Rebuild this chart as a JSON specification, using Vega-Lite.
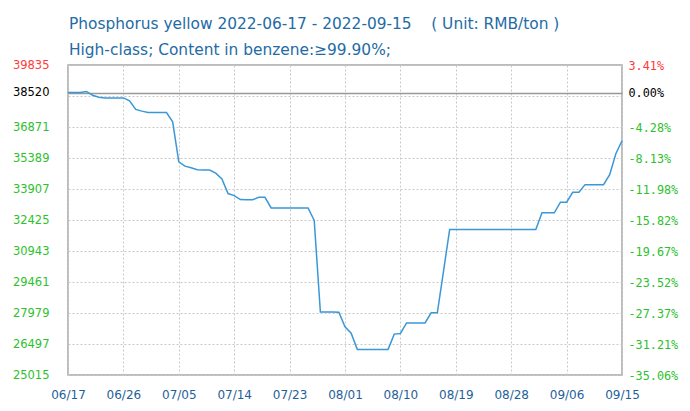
{
  "$schema": "https://vega.github.io/schema/vega-lite/v6.json",
  "width": 554,
  "height": 310,
  "autosize": "none",
  "padding": {"left": 68, "top": 65, "right": 68, "bottom": 36},
  "background": "white",
  "config": {
    "view": {"stroke": "#a6a6a6", "strokeWidth": 1.5},
    "font": "DejaVu Sans"
  },
  "title": {
    "text": ["Phosphorus yellow 2022-06-17 - 2022-09-15\u00a0\u00a0\u00a0\u00a0( Unit: RMB/ton )", "High-class; Content in benzene:≥99.90%;"],
    "anchor": "start",
    "frame": "group",
    "dx": 1,
    "dy": 3,
    "font": "DejaVu Sans",
    "fontSize": 15.4,
    "fontWeight": "normal",
    "color": "#236ba5",
    "lineHeight": 26,
    "offset": 4
  },
  "data": {
    "values": [
      {"date": "2022-06-17", "price": 38520},
      {"date": "2022-06-18", "price": 38520},
      {"date": "2022-06-19", "price": 38520},
      {"date": "2022-06-20", "price": 38570},
      {"date": "2022-06-21", "price": 38390},
      {"date": "2022-06-22", "price": 38295},
      {"date": "2022-06-23", "price": 38260},
      {"date": "2022-06-24", "price": 38260},
      {"date": "2022-06-25", "price": 38260},
      {"date": "2022-06-26", "price": 38260},
      {"date": "2022-06-27", "price": 38120},
      {"date": "2022-06-28", "price": 37710},
      {"date": "2022-06-29", "price": 37630},
      {"date": "2022-06-30", "price": 37560},
      {"date": "2022-07-01", "price": 37560},
      {"date": "2022-07-02", "price": 37560},
      {"date": "2022-07-03", "price": 37560},
      {"date": "2022-07-04", "price": 37120},
      {"date": "2022-07-05", "price": 35210},
      {"date": "2022-07-06", "price": 35000},
      {"date": "2022-07-07", "price": 34925},
      {"date": "2022-07-08", "price": 34830},
      {"date": "2022-07-09", "price": 34815},
      {"date": "2022-07-10", "price": 34815},
      {"date": "2022-07-11", "price": 34665},
      {"date": "2022-07-12", "price": 34390},
      {"date": "2022-07-13", "price": 33690},
      {"date": "2022-07-14", "price": 33590},
      {"date": "2022-07-15", "price": 33400},
      {"date": "2022-07-16", "price": 33390},
      {"date": "2022-07-17", "price": 33390},
      {"date": "2022-07-18", "price": 33510},
      {"date": "2022-07-19", "price": 33510},
      {"date": "2022-07-20", "price": 33000},
      {"date": "2022-07-21", "price": 33000},
      {"date": "2022-07-22", "price": 33000},
      {"date": "2022-07-23", "price": 33000},
      {"date": "2022-07-24", "price": 33000},
      {"date": "2022-07-25", "price": 33000},
      {"date": "2022-07-26", "price": 33000},
      {"date": "2022-07-27", "price": 32400},
      {"date": "2022-07-28", "price": 28030},
      {"date": "2022-07-29", "price": 28030},
      {"date": "2022-07-30", "price": 28030},
      {"date": "2022-07-31", "price": 28015},
      {"date": "2022-08-01", "price": 27315},
      {"date": "2022-08-02", "price": 27015},
      {"date": "2022-08-03", "price": 26240},
      {"date": "2022-08-04", "price": 26240},
      {"date": "2022-08-05", "price": 26240},
      {"date": "2022-08-06", "price": 26240},
      {"date": "2022-08-07", "price": 26240},
      {"date": "2022-08-08", "price": 26240},
      {"date": "2022-08-09", "price": 26970},
      {"date": "2022-08-10", "price": 27000},
      {"date": "2022-08-11", "price": 27505},
      {"date": "2022-08-12", "price": 27505},
      {"date": "2022-08-13", "price": 27505},
      {"date": "2022-08-14", "price": 27505},
      {"date": "2022-08-15", "price": 27985},
      {"date": "2022-08-16", "price": 27985},
      {"date": "2022-08-17", "price": 29970},
      {"date": "2022-08-18", "price": 31970},
      {"date": "2022-08-19", "price": 31970},
      {"date": "2022-08-20", "price": 31970},
      {"date": "2022-08-21", "price": 31970},
      {"date": "2022-08-22", "price": 31970},
      {"date": "2022-08-23", "price": 31970},
      {"date": "2022-08-24", "price": 31970},
      {"date": "2022-08-25", "price": 31970},
      {"date": "2022-08-26", "price": 31970},
      {"date": "2022-08-27", "price": 31970},
      {"date": "2022-08-28", "price": 31970},
      {"date": "2022-08-29", "price": 31970},
      {"date": "2022-08-30", "price": 31970},
      {"date": "2022-08-31", "price": 31970},
      {"date": "2022-09-01", "price": 31970},
      {"date": "2022-09-02", "price": 32770},
      {"date": "2022-09-03", "price": 32770},
      {"date": "2022-09-04", "price": 32770},
      {"date": "2022-09-05", "price": 33275},
      {"date": "2022-09-06", "price": 33275},
      {"date": "2022-09-07", "price": 33750},
      {"date": "2022-09-08", "price": 33750},
      {"date": "2022-09-09", "price": 34115},
      {"date": "2022-09-10", "price": 34115},
      {"date": "2022-09-11", "price": 34115},
      {"date": "2022-09-12", "price": 34115},
      {"date": "2022-09-13", "price": 34595},
      {"date": "2022-09-14", "price": 35595},
      {"date": "2022-09-15", "price": 36215}
    ]
  },
  "layer": [
    {
      "mark": {"type": "line", "color": "#3a98d8", "strokeWidth": 1.5},
      "encoding": {
        "x": {
          "field": "date",
          "type": "temporal",
          "scale": {
            "type": "utc",
            "nice": false,
            "domain": [
              {"year": 2022, "month": 6, "date": 17, "utc": true},
              {"year": 2022, "month": 9, "date": 15, "utc": true}
            ]
          },
          "axis": {
            "title": null,
            "values": [
              {"year": 2022, "month": 6, "date": 17, "utc": true},
              {"year": 2022, "month": 6, "date": 26, "utc": true},
              {"year": 2022, "month": 7, "date": 5, "utc": true},
              {"year": 2022, "month": 7, "date": 14, "utc": true},
              {"year": 2022, "month": 7, "date": 23, "utc": true},
              {"year": 2022, "month": 8, "date": 1, "utc": true},
              {"year": 2022, "month": 8, "date": 10, "utc": true},
              {"year": 2022, "month": 8, "date": 19, "utc": true},
              {"year": 2022, "month": 8, "date": 28, "utc": true},
              {"year": 2022, "month": 9, "date": 6, "utc": true},
              {"year": 2022, "month": 9, "date": 15, "utc": true}
            ],
            "labelExpr": "utcFormat(datum.value, '%m/%d')",
            "labelFont": "DejaVu Sans",
            "labelFontSize": 12,
            "labelColor": "#1f5f9a",
            "labelPadding": 14,
            "labelFlush": false,
            "labelOverlap": false,
            "labelBound": false,
            "ticks": false,
            "domain": false,
            "grid": true,
            "gridColor": "#c8c8c8",
            "gridDash": [2, 2],
            "gridWidth": 1
          }
        },
        "y": {
          "field": "price",
          "type": "quantitative",
          "scale": {"domain": [25015, 39835], "nice": false, "zero": false},
          "axis": {
            "title": null,
            "orient": "left",
            "values": [25015, 26497, 27979, 29461, 30943, 32425, 33907, 35389, 36871, 38353, 38520, 39835],
            "format": "d",
            "labelExpr": "datum.value == 38353 ? '' : datum.label",
            "labelFont": "DejaVu Sans",
            "labelFontSize": 11.5,
            "labelPadding": 19,
            "labelOverlap": false,
            "labelFlush": false,
            "labelBound": false,
            "labelColor": {
              "condition": [
                {"test": "datum.value > 38520", "value": "#ff3b3b"},
                {"test": "datum.value == 38520", "value": "#000000"}
              ],
              "value": "#2ec12e"
            },
            "ticks": false,
            "domain": false,
            "grid": true,
            "gridColor": {"condition": {"test": "datum.value == 38520", "value": "#999999"}, "value": "#c8c8c8"},
            "gridDash": {"condition": {"test": "datum.value == 38520", "value": []}, "value": [2, 2]},
            "gridWidth": {"condition": {"test": "datum.value == 38520", "value": 1.6}, "value": 1}
          }
        }
      }
    },
    {
      "mark": {"type": "line", "opacity": 0},
      "encoding": {
        "x": {"field": "date", "type": "temporal"},
        "y": {
          "field": "price",
          "type": "quantitative",
          "scale": {"domain": [25015, 39835], "nice": false, "zero": false},
          "axis": {
            "title": null,
            "orient": "right",
            "values": [25015, 26497, 27979, 29461, 30943, 32425, 33907, 35389, 36871, 38520, 39835],
            "labelExpr": "(datum.value < 38520 ? '-' : '') + format(abs(datum.value / 38520 - 1), '.2%')",
            "labelFont": "DejaVu Sans Mono",
            "labelFontSize": 11.8,
            "labelPadding": 6,
            "labelOverlap": false,
            "labelFlush": false,
            "labelBound": false,
            "labelColor": {
              "condition": [
                {"test": "datum.value > 38520", "value": "#ff3b3b"},
                {"test": "datum.value == 38520", "value": "#000000"}
              ],
              "value": "#2ec12e"
            },
            "ticks": false,
            "domain": false,
            "grid": false
          }
        }
      }
    }
  ],
  "resolve": {"scale": {"y": "independent"}}
}
